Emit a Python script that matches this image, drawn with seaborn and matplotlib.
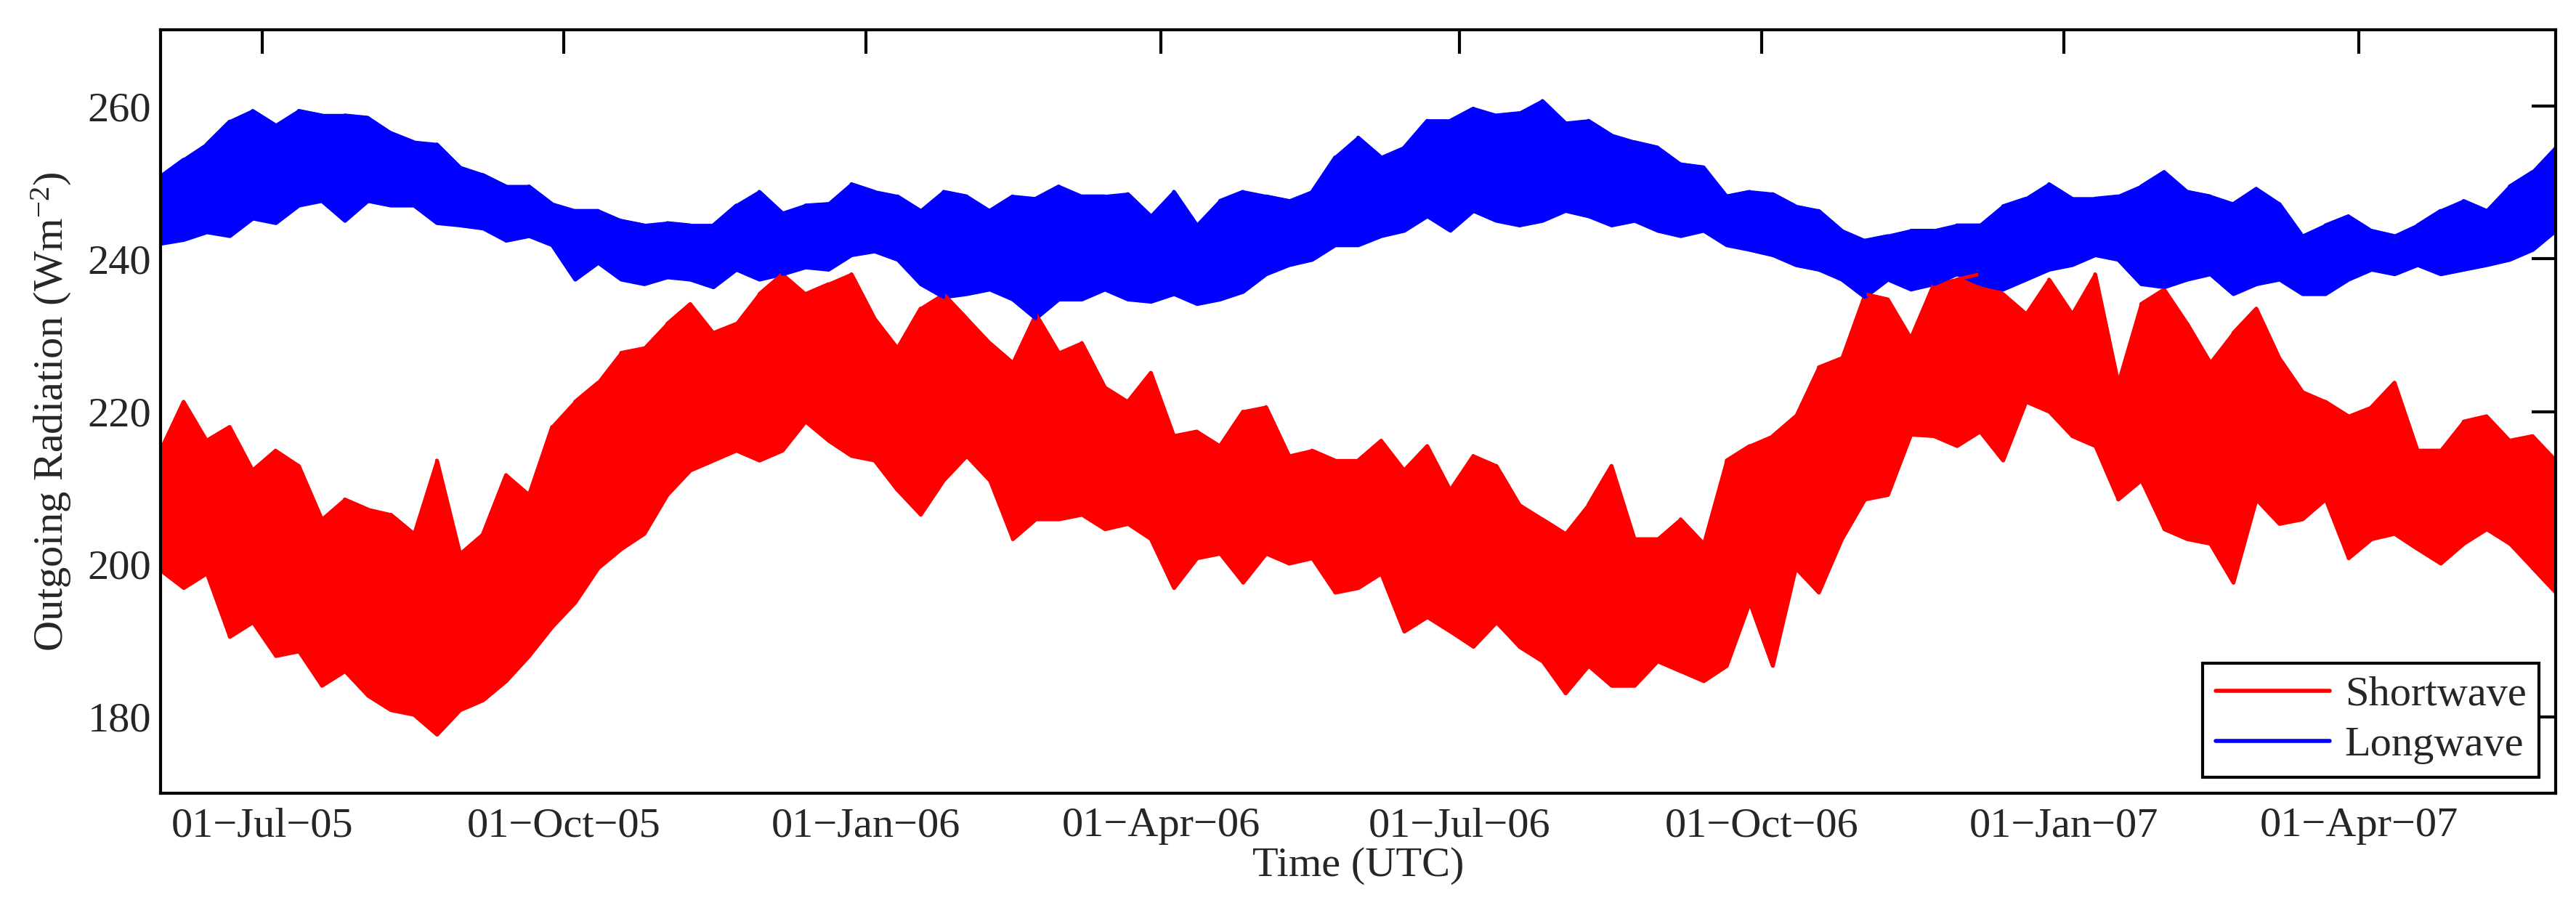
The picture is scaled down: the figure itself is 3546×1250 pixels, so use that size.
import numpy as np
import pandas as pd
import matplotlib
matplotlib.use("Agg")
import matplotlib.pyplot as plt
import matplotlib.dates as mdates
import seaborn as sns

# weekly envelopes (Wm-2), 31 May 2005 -> 31 May 2007
dates = pd.date_range("2005-05-31", "2007-05-31", periods=105)

sw_high = [214.9, 221.3, 216.2, 218.0, 212.3, 214.9, 212.9, 205.9, 208.5, 207.2, 206.5, 204.0, 213.6, 201.4,
           204.0, 211.7, 209.1, 218.0, 221.3, 223.8, 227.7, 228.3, 231.5, 234.1, 230.3, 231.5, 235.4,
           238.0, 235.4, 236.7, 238.0, 232.2, 228.3, 233.5, 235.4, 232.2, 229.0, 226.4, 232.8, 227.7,
           229.0, 223.2, 221.3, 225.1, 216.8, 217.4, 215.5, 220.0, 220.6, 214.2, 214.9, 213.6,
           213.6, 216.2, 212.3, 215.5, 209.7, 214.2, 212.9, 207.8, 205.9, 204.0, 207.8, 212.9, 203.3,
           203.3, 205.9, 202.7, 213.6, 215.5, 216.8, 219.4, 225.8, 227.0, 235.4, 234.7, 229.6, 236.7, 237.3,
           238.0, 235.4, 232.8, 237.3, 232.8, 238.0, 223.8, 234.1, 236.0, 231.5, 226.4, 230.3, 233.5,
           227.0, 222.6, 221.3, 219.4, 220.6, 223.8, 214.9, 214.9, 218.7, 219.4, 216.2, 216.8, 213.6]
sw_low = [199.2, 196.9, 198.8, 190.5, 192.4, 188.0, 188.6, 184.1, 186.0, 182.8, 180.9, 180.3, 177.7, 180.9,
          182.2, 184.7, 188.0, 191.8, 195.0, 199.5, 202.0, 204.0, 209.1, 212.3, 213.6, 214.9, 213.6,
          214.9, 218.7, 216.2, 214.2, 213.6, 209.7, 206.5, 211.0, 214.2, 211.0, 203.3, 205.9, 205.9,
          206.5, 204.6, 205.3, 203.3, 196.9, 200.8, 201.4, 197.6, 201.4, 200.1, 200.8, 196.3,
          196.9, 198.8, 191.2, 193.1, 191.2, 189.2, 192.4, 189.2, 187.3, 183.1, 186.7, 184.1, 184.1,
          187.3, 186.0, 184.7, 186.7, 195.0, 186.7, 199.5, 196.3, 203.3, 208.5, 209.1, 217.0, 216.8, 215.5,
          217.4, 213.6, 221.3, 220.0, 216.8, 215.5, 208.5, 211.0, 204.6, 203.3, 202.7, 197.6, 208.5,
          205.3, 205.9, 208.5, 200.8, 203.3, 204.0, 202.0, 200.1, 202.7, 204.6, 202.7, 199.5, 196.3]

lw_high = [250.8, 253.0, 255.0, 258.0, 259.4, 257.5, 259.4, 258.8, 258.8, 258.5, 256.5, 255.3, 255.0, 252.0,
           251.0, 249.5, 249.5, 247.2, 246.3, 246.3, 245.0, 244.4, 244.7, 244.4, 244.4, 247.0, 248.8,
           246.0, 247.0, 247.2, 249.8, 248.8, 248.2, 246.3, 248.8, 248.2, 246.3, 248.2, 247.9, 249.5,
           248.2, 248.2, 248.5, 245.6, 248.8, 244.4, 247.6, 248.8, 248.2, 247.6, 248.8, 253.3,
           255.9, 253.3, 254.6, 258.1, 258.1, 259.7, 258.8, 259.1, 260.7, 257.8, 258.1, 256.2, 255.3,
           254.6, 252.4, 252.0, 248.2, 248.8, 248.5, 246.9, 246.3, 243.7, 242.4, 243.0, 243.7, 243.7, 244.4,
           244.4, 246.9, 247.9, 249.8, 247.9, 247.9, 248.2, 249.5, 251.4, 248.8, 248.2, 247.2, 249.2,
           247.2, 243.0, 244.4, 245.6, 243.7, 243.0, 244.4, 246.3, 247.6, 246.3, 249.5, 251.4, 254.6]
lw_low = [242.0, 242.5, 243.5, 243.0, 245.3, 244.7, 247.0, 247.6, 245.0, 247.6, 247.0, 247.0, 244.7, 244.4,
          244.0, 242.4, 243.0, 241.8, 237.3, 239.5, 237.3, 236.7, 237.6, 237.3, 236.3, 238.6, 237.3,
          238.0, 238.9, 238.6, 240.5, 241.0, 239.9, 236.7, 235.0, 235.4, 236.0, 234.7, 232.2, 234.7,
          234.7, 236.0, 234.7, 234.4, 235.4, 234.1, 234.7, 235.7, 238.0, 239.2, 239.9, 241.8,
          241.8, 243.0, 243.7, 245.6, 243.7, 246.3, 245.0, 244.4, 245.0, 246.3, 245.6, 244.4, 245.0,
          243.7, 243.0, 243.7, 241.8, 241.2, 240.5, 239.2, 238.6, 237.3, 235.0, 237.3, 236.0, 236.7, 238.0,
          236.7, 236.0, 237.3, 238.6, 239.2, 240.5, 239.9, 236.7, 236.3, 237.3, 238.0, 235.4, 236.7,
          237.3, 235.4, 235.4, 237.3, 238.6, 238.0, 239.2, 238.0, 238.6, 239.2, 239.9, 241.2, 243.7]

series = [("Shortwave", sw_low, sw_high, "#ff0000"),
          ("Longwave", lw_low, lw_high, "#0000ff")]


def zigzag(low, high):
    # trace low/high alternately so the line sweeps through the band
    t, v = [], []
    for k, (lo, hi) in enumerate(zip(low, high)):
        pair = (lo, hi) if k % 2 == 0 else (hi, lo)
        t += [dates[k], dates[k]]
        v += list(pair)
    return pd.DataFrame({"time": t, "value": v})


sns.set_style("white")
plt.rcParams["font.family"] = ["Liberation Serif", "DejaVu Serif"]
plt.rcParams["mathtext.fontset"] = "custom"
plt.rcParams["mathtext.rm"] = "Liberation Serif"
plt.rcParams["mathtext.it"] = "Liberation Serif"
plt.rcParams["mathtext.default"] = "regular"

fig = plt.figure(figsize=(35.46, 12.5), dpi=100)
ax = fig.add_axes([0.0623, 0.1264, 0.9298, 0.8408])

for name, lo, hi, col in series:
    ax.fill_between(dates, lo, hi, color=col, edgecolor=col, linewidth=3.5)
    sns.lineplot(data=zigzag(lo, hi), x="time", y="value", ax=ax, color=col,
                 linewidth=3.5, estimator=None, sort=False, label=name)

ax.set_xlim(pd.Timestamp("2005-05-31"), pd.Timestamp("2007-05-31"))
ax.set_ylim(170, 270)
ax.set_yticks([180, 200, 220, 240, 260])
ax.xaxis.set_major_locator(mdates.MonthLocator(bymonth=[1, 4, 7, 10]))
ax.xaxis.set_major_formatter(mdates.DateFormatter("%d\u2212%b\u2212%y"))

ax.tick_params(axis="both", which="major", direction="in", length=24, width=3,
               labelsize=42, top=True, right=True, color="black")
ax.tick_params(axis="x", pad=14)
ax.tick_params(axis="y", pad=9)
for sp in ax.spines.values():
    sp.set_linewidth(3)
    sp.set_color("black")

ax.set_xlabel("Time (UTC)", fontsize=42, labelpad=2)
ax.set_ylabel("Outgoing Radiation (Wm$^{-2}$)", fontsize=42, labelpad=14)

leg = ax.legend(loc="lower right", bbox_to_anchor=(0.993, 0.021), borderaxespad=0,
                fontsize=42, frameon=True, fancybox=False, framealpha=1,
                edgecolor="black", handlelength=2.7, handletextpad=0.35,
                borderpad=0.3, labelspacing=0.28)
leg.get_frame().set_linewidth(3)
for line in leg.get_lines():
    line.set_linewidth(4)

fig.savefig("out.png", dpi=100)
